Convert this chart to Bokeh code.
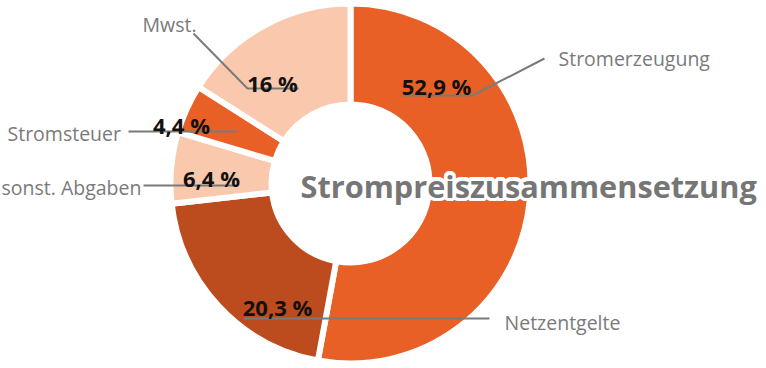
import math
from bokeh.plotting import figure
from bokeh.models import Range1d, ColumnDataSource
from bokeh.core.properties import value
from bokeh.embed import file_html
from bokeh.resources import INLINE

# ---- data ----
categories = ["Stromerzeugung", "Netzentgelte", "sonst. Abgaben", "Stromsteuer", "Mwst."]
shares = [52.9, 20.3, 6.4, 4.4, 16.0]
pct_labels = ["52,9 %", "20,3 %", "6,4 %", "4,4 %", "16 %"]
colors = ["#E96027", "#BC4B1D", "#FAC8AC", "#E96027", "#FAC8AC"]
title_text = "Strompreiszusammensetzung"

# ---- layout (image pixel coordinates) ----
W, H = 766, 368
def X(xi): return xi
def Y(yi): return H - yi

cx, cy = X(350), Y(183)

p = figure(width=W, height=H, output_backend="svg", toolbar_location=None,
           x_range=Range1d(0, W), y_range=Range1d(0, H), min_border=0)
p.axis.visible = False
p.grid.visible = False
p.outline_line_color = None
p.background_fill_color = "white"

total = sum(shares)
starts, ends = [], []
acc = 0.0
for s in shares:
    starts.append(math.pi / 2 - 2 * math.pi * acc / total)
    acc += s
    ends.append(math.pi / 2 - 2 * math.pi * acc / total)

src = ColumnDataSource(dict(start=starts, end=ends, color=colors, cat=categories))
p.annular_wedge(x=cx, y=cy, inner_radius=79, outer_radius=180,
                start_angle="start", end_angle="end", direction="clock",
                fill_color="color", line_color="white", line_width=6, source=src)

# title with white halo
tx, ty = X(300), Y(185)
for k in range(16):
    a = 2 * math.pi * k / 16
    p.text(x=[tx], y=[ty], text=[title_text], x_offset=3.5 * math.cos(a), y_offset=3.5 * math.sin(a),
           text_font=value("Open Sans"), text_font_style="bold", text_font_size="30.7px",
           text_color="white", text_align="left", text_baseline="alphabetic")
p.text(x=[tx], y=[ty], text=[title_text],
       text_font=value("Open Sans"), text_font_style="bold", text_font_size="30.7px",
       text_color="#767676", text_align="left", text_baseline="alphabetic")

# leader lines
gray = "#7a7a7a"
leaders = [
    [(402, 95), (472, 95), (544, 58)],
    [(243, 318), (489, 318)],
    [(237, 185), (143, 185)],
    [(236, 131), (128, 131)],
    [(298, 88), (247, 88), (193, 33)],
]
p.multi_line(xs=[[X(a) for a, b in l] for l in leaders],
             ys=[[Y(b) for a, b in l] for l in leaders],
             line_color=gray, line_width=2)

# percent labels
pct_pos = [(436, 85), (277, 306), (211, 177), (181, 124), (272, 82)]
p.text(x=[X(a) for a, b in pct_pos], y=[Y(b) for a, b in pct_pos], text=pct_labels,
       text_font=value("Open Sans"), text_font_style="bold", text_font_size="22px",
       text_color="#111111", text_align="center", text_baseline="alphabetic")

# category labels
cat_pos = [(558, 58), (504, 322), (1, 187), (7, 133), (142, 24)]
p.text(x=[X(a) for a, b in cat_pos], y=[Y(b) for a, b in cat_pos], text=categories,
       text_font=value("Open Sans"), text_font_size="19.5px",
       text_color=gray, text_align="left", text_baseline="alphabetic")

open("out.html", "w").write(file_html(p, INLINE))
